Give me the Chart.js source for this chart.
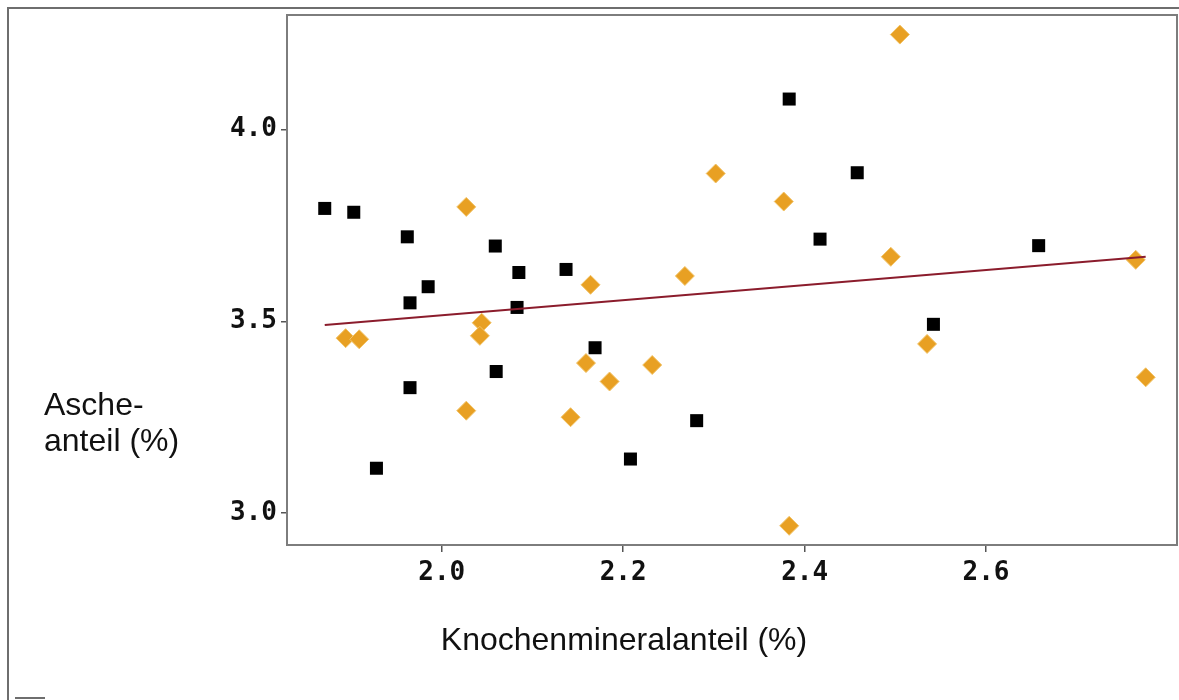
<!DOCTYPE html>
<html>
<head>
<meta charset="utf-8">
<script src="https://cdn.jsdelivr.net/npm/chart.js@4/dist/chart.umd.min.js"></script>
<style>
  html, body { margin: 0; padding: 0; background: #fff; }
  #wrap { width: 1179px; height: 700px; }
</style>
</head>
<body>
<div id="wrap"><canvas id="scatterChart" width="1179" height="700"></canvas></div>
<script>
// Knochenmineralanteil (x) gegen Ascheanteil (y)
var blackX = [1.871, 1.903, 1.962, 2.059, 2.085, 2.137, 1.985, 1.965, 2.083, 2.169,
              2.060, 1.965, 1.928, 2.208, 2.281, 2.542, 2.383, 2.458, 2.417, 2.658];
var blackY = [3.794, 3.784, 3.720, 3.696, 3.627, 3.635, 3.590, 3.548, 3.536, 3.431,
              3.369, 3.327, 3.117, 3.141, 3.241, 3.492, 4.079, 3.887, 3.714, 3.697];

var orangeX = [1.894, 1.909, 2.027, 2.027, 2.044, 2.042, 2.164, 2.159, 2.185, 2.142,
               2.232, 2.268, 2.302, 2.377, 2.383, 2.505, 2.495, 2.535, 2.765, 2.776];
var orangeY = [3.456, 3.453, 3.798, 3.267, 3.496, 3.462, 3.595, 3.391, 3.343, 3.250,
               3.386, 3.618, 3.885, 3.812, 2.967, 4.247, 3.668, 3.441, 3.660, 3.354];

// Regressionsgerade
var lineX = [1.871, 2.776];
var lineY = [3.490, 3.668];

var xTicks = [2.0, 2.2, 2.4, 2.6];
var yTicks = [3.0, 3.5, 4.0];

var xTitle = 'Knochenmineralanteil (%)';
var yTitle = ['Asche-', 'anteil (%)'];

function toPoints(xs, ys) {
    return xs.map(function (x, i) { return { x: x, y: ys[i] }; });
}

var frameAndTitles = {
    id: 'frameAndTitles',
    beforeDraw: function (chart) {
        var ctx = chart.ctx;
        ctx.save();
        ctx.fillStyle = '#fff';
        ctx.fillRect(0, 0, chart.width, chart.height);
        // outer window frame
        ctx.strokeStyle = '#6e6e6e';
        ctx.lineWidth = 2;
        ctx.beginPath();
        ctx.moveTo(8, 700);
        ctx.lineTo(8, 8);
        ctx.lineTo(1179, 8);
        ctx.stroke();
        ctx.beginPath();
        ctx.moveTo(15, 698);
        ctx.lineTo(45, 698);
        ctx.stroke();
        ctx.restore();
    },
    afterDraw: function (chart) {
        var ctx = chart.ctx;
        var a = chart.chartArea;
        ctx.save();
        ctx.strokeStyle = '#7d7d7d';
        ctx.lineWidth = 2;
        ctx.strokeRect(a.left, a.top, a.right - a.left, a.bottom - a.top);
        ctx.fillStyle = '#111';
        ctx.font = '32px "Liberation Sans", Arial, sans-serif';
        ctx.textBaseline = 'alphabetic';
        ctx.textAlign = 'left';
        ctx.fillText(yTitle[0], 44, 415);
        ctx.fillText(yTitle[1], 44, 451);
        ctx.textAlign = 'center';
        ctx.fillText(xTitle, 624, 650);
        ctx.restore();
    }
};

var tickFont = { family: '"DejaVu Sans Mono", monospace', size: 26, weight: 'bold' };

var ctx = document.getElementById('scatterChart').getContext('2d');
var myChart = new Chart(ctx, {
    type: 'scatter',
    data: {
        datasets: [{
            type: 'line',
            label: 'Regression',
            data: toPoints(lineX, lineY),
            borderColor: '#8b1c2c',
            borderWidth: 2,
            pointRadius: 0,
            fill: false
        }, {
            label: 'schwarz',
            data: toPoints(blackX, blackY),
            pointStyle: 'rect',
            pointRadius: 9.2,
            backgroundColor: '#000',
            borderColor: '#000',
            borderWidth: 0
        }, {
            label: 'orange',
            data: toPoints(orangeX, orangeY),
            pointStyle: 'rectRot',
            pointRadius: 9.5,
            backgroundColor: '#e8a023',
            borderColor: '#f2c46a',
            borderWidth: 1
        }]
    },
    options: {
        responsive: false,
        animation: false,
        devicePixelRatio: 1,
        layout: { autoPadding: false, padding: { top: 15, right: 2, left: 0, bottom: 0 } },
        plugins: {
            legend: { display: false },
            tooltip: { enabled: false }
        },
        scales: {
            x: {
                type: 'linear',
                min: 1.8294,
                max: 2.8105,
                afterBuildTicks: function (scale) {
                    scale.ticks = xTicks.map(function (v) { return { value: v }; });
                },
                afterFit: function (scale) {
                    scale.height = 155;
                    scale.paddingLeft = 0;
                    scale.paddingRight = 0;
                },
                grid: { drawOnChartArea: false, drawTicks: true, tickLength: 7, color: '#555', lineWidth: 1.5 },
                border: { display: false },
                ticks: {
                    font: tickFont,
                    color: '#111',
                    padding: 6,
                    maxRotation: 0,
                    callback: function (v) { return v.toFixed(1); }
                }
            },
            y: {
                type: 'linear',
                min: 2.917,
                max: 4.298,
                afterBuildTicks: function (scale) {
                    scale.ticks = yTicks.map(function (v) { return { value: v }; });
                },
                afterFit: function (scale) {
                    scale.width = 287;
                    scale.paddingTop = 0;
                    scale.paddingBottom = 0;
                },
                grid: { drawOnChartArea: false, drawTicks: true, tickLength: 6, color: '#555', lineWidth: 1.5 },
                border: { display: false },
                ticks: {
                    font: tickFont,
                    color: '#111',
                    padding: 4,
                    callback: function (v) { return v.toFixed(1); }
                }
            }
        }
    },
    plugins: [frameAndTitles]
});
</script>
</body>
</html>
